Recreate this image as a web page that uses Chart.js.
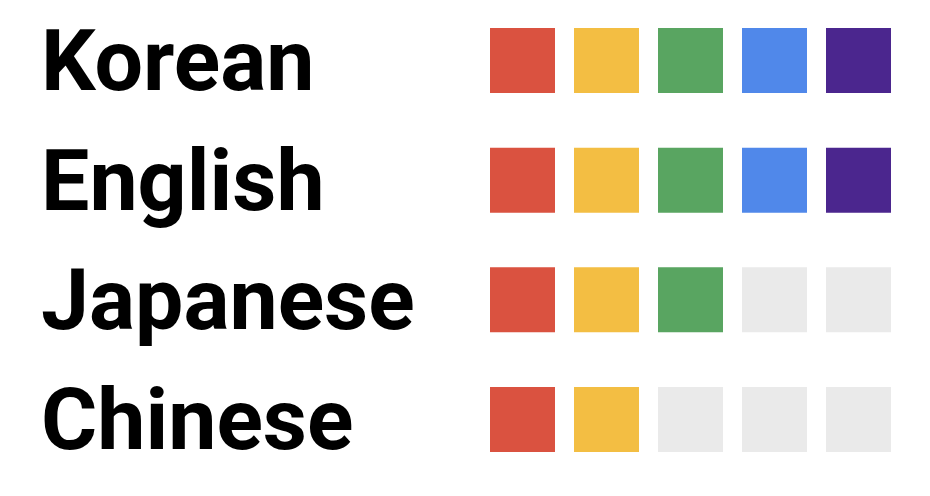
<!DOCTYPE html>
<html>
<head>
<meta charset="utf-8">
<script src="https://cdn.jsdelivr.net/npm/chart.js@4"></script>
<style>
  html, body { margin: 0; padding: 0; background: #ffffff; }
  #wrap { width: 930px; height: 496px; }
</style>
</head>
<body>
<div id="wrap"><canvas id="c" width="930" height="496"></canvas></div>
<script>
const languages = ['Korean', 'English', 'Japanese', 'Chinese'];
const filledCount = [5, 5, 3, 2];
const slotCount = 5;
const slotColors = ['#DA5240', '#F3BE43', '#59A561', '#5088EA', '#4B268E'];
const emptyColor = '#EAEAEA';

const points = [];
const colors = [];
languages.forEach((lang, r) => {
  for (let i = 0; i < slotCount; i++) {
    points.push({ x: i, y: lang });
    colors.push(i < filledCount[r] ? slotColors[i] : emptyColor);
  }
});

const SQUARE = 65;

new Chart(document.getElementById('c'), {
  type: 'scatter',
  data: {
    datasets: [{
      data: points,
      pointStyle: 'rect',
      pointRadius: SQUARE / Math.SQRT2,
      pointHoverRadius: SQUARE / Math.SQRT2,
      pointBorderWidth: 0,
      pointBackgroundColor: colors,
      backgroundColor: colors,
      borderWidth: 0,
      clip: false
    }]
  },
  options: {
    responsive: false,
    animation: false,
    layout: { autoPadding: false, padding: { left: 41, right: 29.5, top: 60.5, bottom: 76.5 } },
    plugins: { legend: { display: false }, tooltip: { enabled: false } },
    scales: {
      x: { type: 'linear', min: -0.5, max: 4.5, display: false },
      y: {
        type: 'category',
        labels: languages,
        offset: false,
        grid: { display: false },
        border: { display: false },
        ticks: {
          crossAlign: 'far',
          color: '#000000',
          padding: 0,
          labelOffset: 8,
          font: { family: 'Roboto', weight: 'bold', size: 86 }
        },
        afterFit: (axis) => { axis.width = 439.5; }
      }
    }
  }
});
</script>
</body>
</html>
